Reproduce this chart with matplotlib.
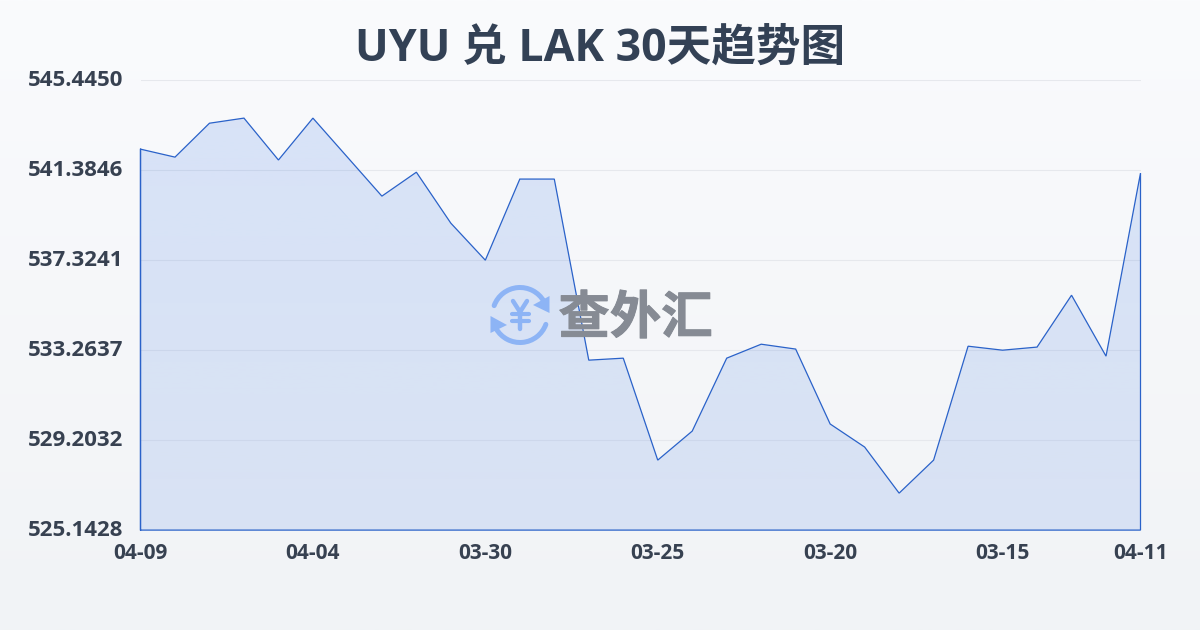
import numpy as np
import matplotlib
matplotlib.use('Agg')
import matplotlib.pyplot as plt
from matplotlib.patches import Arc, Polygon
import matplotlib.patheffects as pe
from matplotlib.transforms import ScaledTranslation

LATIN = 'Open Sans'
plt.rcParams['font.family'] = [LATIN, 'Noto Sans CJK SC', 'DejaVu Sans']

title = 'UYU 兑 LAK 30天趋势图'
watermark = '查外汇'
values = [542.33, 541.97, 543.50, 543.73, 541.84, 543.73, 541.97, 540.21, 541.29, 538.99,
          537.32, 540.98, 540.98, 532.81, 532.90, 528.30, 529.61, 532.90, 533.53, 533.31,
          529.93, 528.89, 526.81, 528.30, 533.44, 533.26, 533.40, 535.74, 532.99, 541.25]
x_tick_pos = [0, 5, 10, 15, 20, 25, 29]
x_tick_labels = ['04-09', '04-04', '03-30', '03-25', '03-20', '03-15', '04-11']
y_ticks = [525.1428, 529.2032, 533.2637, 537.3241, 541.3846, 545.4450]
y_labels = ['525.1428', '529.2032', '533.2637', '537.3241', '541.3846', '545.4450']

W, H = 1200, 630
fig = plt.figure(figsize=(W / 100, H / 100), dpi=100)

bg = fig.add_axes([0, 0, 1, 1], zorder=0)
bg.set_axis_off()
grad = np.linspace(0, 1, 256)[:, None]
c0, c1 = np.array([250, 251, 253]) / 255, np.array([241, 243, 246]) / 255
bg.imshow((c0 + (c1 - c0) * grad[..., None]), aspect='auto', extent=[0, 1, 0, 1])

ax = fig.add_axes([140.5 / W, 1 - 530.1 / H, 1000 / W, 450 / H], zorder=1)
ax.patch.set_alpha(0)
xs = np.arange(len(values))
ax.set_xlim(0, len(values) - 1)
ax.set_ylim(y_ticks[0], y_ticks[-1])

for s in ax.spines.values():
    s.set_visible(False)
ax.set_yticks(y_ticks)
ax.set_yticklabels(y_labels)
ax.set_xticks(x_tick_pos)
ax.set_xticklabels(x_tick_labels)
ax.grid(axis='y', color='#e6e8ed', lw=0.8)
ax.set_axisbelow(True)
ax.tick_params(axis='both', length=0)
ax.tick_params(axis='y', pad=12.5, labelsize=16, labelcolor='#374151')
ax.tick_params(axis='x', pad=9.5, labelsize=15, labelcolor='#374151')
up = ScaledTranslation(0, 2.5 / 100, fig.dpi_scale_trans)
for lab in ax.get_yticklabels():
    lab.set_fontweight('bold')
    lab.set_transform(lab.get_transform() + up)
for lab in ax.get_xticklabels():
    lab.set_fontweight('bold')

# area gradient
poly = Polygon(list(zip(xs, values)) + [(xs[-1], y_ticks[0]), (xs[0], y_ticks[0])],
               closed=True, facecolor='none', edgecolor='none', transform=ax.transData)
ax.add_patch(poly)
rgb = np.array([45, 108, 225]) / 255
rgba = np.zeros((256, 1, 4))
rgba[:, 0, :3] = rgb
rgba[:, 0, 3] = np.linspace(0.16, 0.13, 256)
im = ax.imshow(rgba, aspect='auto', extent=[0, len(values) - 1, y_ticks[0], y_ticks[-1]],
               origin='upper', zorder=1.5)
im.set_clip_path(poly)

ax.plot(np.r_[xs[0], xs, xs[-1], xs[0], xs[0]],
        np.r_[y_ticks[0], values, y_ticks[0], y_ticks[0], values[0]],
        color='#2a62c9', lw=0.9, zorder=3, solid_joinstyle='miter', clip_on=False)

# title
fig.text(600 / W, 1 - 49 / H, title, ha='center', va='center', fontsize=32.1,
         fontweight='bold', color='#334155')

# watermark
ov = fig.add_axes([0, 0, 1, 1], zorder=5)
ov.set_axis_off()
ov.set_xlim(0, W)
ov.set_ylim(H, 0)
ov.patch.set_alpha(0)
blue = '#8db4f5'
cx, cy, d = 520, 315, 55
ov.add_patch(Arc((cx, cy), d, d, theta1=200, theta2=330, color=blue, lw=3.6, capstyle='round'))
ov.add_patch(Arc((cx, cy), d, d, theta1=20, theta2=150, color=blue, lw=3.6, capstyle='round'))
ov.add_patch(Polygon([(549.5, 296), (549.5, 313), (533, 305)], closed=True, color=blue, lw=0))
ov.add_patch(Polygon([(490.5, 316), (490.5, 333), (507, 325)], closed=True, color=blue, lw=0))
ov.plot([513, 520, 527], [301, 312, 301], color=blue, lw=3.2, solid_capstyle='round', solid_joinstyle='round')
ov.plot([520, 520], [312, 329], color=blue, lw=3.2, solid_capstyle='round')
ov.plot([511.5, 528.5], [314, 314], color=blue, lw=3, solid_capstyle='round')
ov.plot([511.5, 528.5], [321, 321], color=blue, lw=3, solid_capstyle='round')
ov.text(635.5, 318, watermark, ha='center', va='center', fontsize=37, fontweight='bold',
        color='#868b94', family=['Noto Sans CJK SC'],
        path_effects=[pe.withStroke(linewidth=0.7, foreground='#868b94')])

fig.savefig('out.png', dpi=100)
